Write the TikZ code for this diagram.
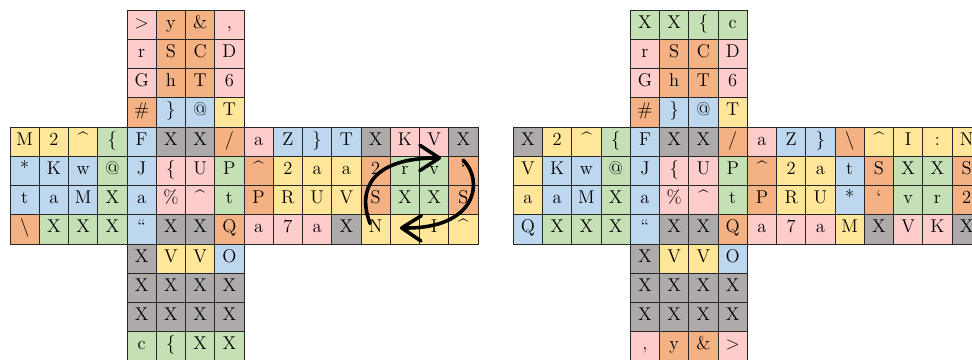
\documentclass[tikz,border=0pt]{standalone}
\usepackage{tikz}
\usetikzlibrary{arrows.meta}

\definecolor{cpink}{HTML}{FFCCCC}
\definecolor{corange}{HTML}{F4B183}
\definecolor{cyellow}{HTML}{FFE699}
\definecolor{cblue}{HTML}{BDD7EE}
\definecolor{cgreen}{HTML}{C5E0B4}
\definecolor{cgray}{HTML}{AEAAAA}

\begin{document}
\begin{tikzpicture}[
				x=7.5mm, y=7.5mm,
				cell/.style={draw=black!85, line width=0.6pt, minimum size=7.5mm, inner sep=0pt,
					text height=0.7em, text depth=0.2em, font=\fontsize{13.5pt}{13.5pt}\selectfont},
				pk/.style={cell, fill=cpink},
				og/.style={cell, fill=corange},
				yl/.style={cell, fill=cyellow},
				bu/.style={cell, fill=cblue},
				gn/.style={cell, fill=cgreen},
				gy/.style={cell, fill=cgray},
				giro/.style={line width=2.6pt, line cap=round, -{Straight Barb[round, length=5mm, width=6.5mm]}}
				]
				
				\useasboundingbox (-0.342,0.342) rectangle (32.89,-11.966);
				
				% Cubo inicial: cara superior
				\node[pk] (L-0-4) at (4.5,-0.5) {>}; \node[og] (L-0-5) at (5.5,-0.5) {y}; \node[og] (L-0-6) at (6.5,-0.5) {\&}; \node[pk] (L-0-7) at (7.5,-0.5) {,};
				\node[pk] (L-1-4) at (4.5,-1.5) {r}; \node[og] (L-1-5) at (5.5,-1.5) {S}; \node[og] (L-1-6) at (6.5,-1.5) {C}; \node[pk] (L-1-7) at (7.5,-1.5) {D};
				\node[pk] (L-2-4) at (4.5,-2.5) {G}; \node[og] (L-2-5) at (5.5,-2.5) {h}; \node[og] (L-2-6) at (6.5,-2.5) {T}; \node[pk] (L-2-7) at (7.5,-2.5) {6};
				\node[og] (L-3-4) at (4.5,-3.5) {\#}; \node[bu] (L-3-5) at (5.5,-3.5) {\}}; \node[bu] (L-3-6) at (6.5,-3.5) {@}; \node[yl] (L-3-7) at (7.5,-3.5) {T};
				
				% Cubo inicial: franja central
				\node[yl] (L-4-0) at (0.5,-4.5) {M}; \node[yl] (L-4-1) at (1.5,-4.5) {2}; \node[yl] (L-4-2) at (2.5,-4.5) {\textasciicircum}; \node[gn] (L-4-3) at (3.5,-4.5) {\{};
				\node[bu] (L-4-4) at (4.5,-4.5) {F}; \node[gy] (L-4-5) at (5.5,-4.5) {X}; \node[gy] (L-4-6) at (6.5,-4.5) {X}; \node[og] (L-4-7) at (7.5,-4.5) {/};
				\node[pk] (L-4-8) at (8.5,-4.5) {a}; \node[bu] (L-4-9) at (9.5,-4.5) {Z}; \node[bu] (L-4-10) at (10.5,-4.5) {\}}; \node[bu] (L-4-11) at (11.5,-4.5) {T};
				\node[gy] (L-4-12) at (12.5,-4.5) {X}; \node[pk] (L-4-13) at (13.5,-4.5) {K}; \node[pk] (L-4-14) at (14.5,-4.5) {V}; \node[gy] (L-4-15) at (15.5,-4.5) {X};
				
				\node[bu] (L-5-0) at (0.5,-5.5) {*}; \node[bu] (L-5-1) at (1.5,-5.5) {K}; \node[bu] (L-5-2) at (2.5,-5.5) {w}; \node[gn] (L-5-3) at (3.5,-5.5) {@};
				\node[bu] (L-5-4) at (4.5,-5.5) {J}; \node[pk] (L-5-5) at (5.5,-5.5) {\{}; \node[pk] (L-5-6) at (6.5,-5.5) {U}; \node[gn] (L-5-7) at (7.5,-5.5) {P};
				\node[og] (L-5-8) at (8.5,-5.5) {\textasciicircum}; \node[yl] (L-5-9) at (9.5,-5.5) {2}; \node[yl] (L-5-10) at (10.5,-5.5) {a}; \node[yl] (L-5-11) at (11.5,-5.5) {a};
				\node[og] (L-5-12) at (12.5,-5.5) {2}; \node[gn] (L-5-13) at (13.5,-5.5) {r}; \node[gn] (L-5-14) at (14.5,-5.5) {v}; \node[og] (L-5-15) at (15.5,-5.5) {\textquoteleft};
				
				\node[bu] (L-6-0) at (0.5,-6.5) {t}; \node[bu] (L-6-1) at (1.5,-6.5) {a}; \node[bu] (L-6-2) at (2.5,-6.5) {M}; \node[gn] (L-6-3) at (3.5,-6.5) {X};
				\node[bu] (L-6-4) at (4.5,-6.5) {a}; \node[pk] (L-6-5) at (5.5,-6.5) {\%}; \node[pk] (L-6-6) at (6.5,-6.5) {\textasciicircum}; \node[gn] (L-6-7) at (7.5,-6.5) {t};
				\node[og] (L-6-8) at (8.5,-6.5) {P}; \node[yl] (L-6-9) at (9.5,-6.5) {R}; \node[yl] (L-6-10) at (10.5,-6.5) {U}; \node[yl] (L-6-11) at (11.5,-6.5) {V};
				\node[og] (L-6-12) at (12.5,-6.5) {S}; \node[gn] (L-6-13) at (13.5,-6.5) {X}; \node[gn] (L-6-14) at (14.5,-6.5) {X}; \node[og] (L-6-15) at (15.5,-6.5) {S};
				
				\node[og] (L-7-0) at (0.5,-7.5) {\textbackslash}; \node[gn] (L-7-1) at (1.5,-7.5) {X}; \node[gn] (L-7-2) at (2.5,-7.5) {X}; \node[gn] (L-7-3) at (3.5,-7.5) {X};
				\node[bu] (L-7-4) at (4.5,-7.5) {\textquotedblleft}; \node[gy] (L-7-5) at (5.5,-7.5) {X}; \node[gy] (L-7-6) at (6.5,-7.5) {X}; \node[og] (L-7-7) at (7.5,-7.5) {Q};
				\node[pk] (L-7-8) at (8.5,-7.5) {a}; \node[pk] (L-7-9) at (9.5,-7.5) {7}; \node[pk] (L-7-10) at (10.5,-7.5) {a}; \node[gy] (L-7-11) at (11.5,-7.5) {X};
				\node[yl] (L-7-12) at (12.5,-7.5) {N}; \node[yl] (L-7-13) at (13.5,-7.5) {:}; \node[yl] (L-7-14) at (14.5,-7.5) {I}; \node[yl] (L-7-15) at (15.5,-7.5) {\textasciicircum};
				
				% Cubo inicial: cara inferior
				\node[gy] (L-8-4) at (4.5,-8.5) {X}; \node[yl] (L-8-5) at (5.5,-8.5) {V}; \node[yl] (L-8-6) at (6.5,-8.5) {V}; \node[bu] (L-8-7) at (7.5,-8.5) {O};
				\node[gy] (L-9-4) at (4.5,-9.5) {X}; \node[gy] (L-9-5) at (5.5,-9.5) {X}; \node[gy] (L-9-6) at (6.5,-9.5) {X}; \node[gy] (L-9-7) at (7.5,-9.5) {X};
				\node[gy] (L-10-4) at (4.5,-10.5) {X}; \node[gy] (L-10-5) at (5.5,-10.5) {X}; \node[gy] (L-10-6) at (6.5,-10.5) {X}; \node[gy] (L-10-7) at (7.5,-10.5) {X};
				\node[gn] (L-11-4) at (4.5,-11.5) {c}; \node[gn] (L-11-5) at (5.5,-11.5) {\{}; \node[gn] (L-11-6) at (6.5,-11.5) {X}; \node[gn] (L-11-7) at (7.5,-11.5) {X};
				
				% Giro de la cara derecha
				\coordinate (g1a) at (12.31,-7.3);
				\coordinate (g1b) at (14.74,-5.06);
				\coordinate (g2a) at (15.49,-5.13);
				\coordinate (g2b) at (13.33,-7.45);
				\draw[giro] (g1a) .. controls (11.85,-6.1) and (12.4,-5.05) .. (g1b);
				\draw[giro] (g2a) .. controls (16.2,-5.8) and (16.0,-7.5) .. (g2b);
				
				% Cubo girado: cara superior
				\node[gn] (R-0-4) at (21.71,-0.5) {X}; \node[gn] (R-0-5) at (22.71,-0.5) {X}; \node[gn] (R-0-6) at (23.71,-0.5) {\{}; \node[gn] (R-0-7) at (24.71,-0.5) {c};
				\node[pk] (R-1-4) at (21.71,-1.5) {r}; \node[og] (R-1-5) at (22.71,-1.5) {S}; \node[og] (R-1-6) at (23.71,-1.5) {C}; \node[pk] (R-1-7) at (24.71,-1.5) {D};
				\node[pk] (R-2-4) at (21.71,-2.5) {G}; \node[og] (R-2-5) at (22.71,-2.5) {h}; \node[og] (R-2-6) at (23.71,-2.5) {T}; \node[pk] (R-2-7) at (24.71,-2.5) {6};
				\node[og] (R-3-4) at (21.71,-3.5) {\#}; \node[bu] (R-3-5) at (22.71,-3.5) {\}}; \node[bu] (R-3-6) at (23.71,-3.5) {@}; \node[yl] (R-3-7) at (24.71,-3.5) {T};
				
				% Cubo girado: franja central
				\node[gy] (R-4-0) at (17.71,-4.5) {X}; \node[yl] (R-4-1) at (18.71,-4.5) {2}; \node[yl] (R-4-2) at (19.71,-4.5) {\textasciicircum}; \node[gn] (R-4-3) at (20.71,-4.5) {\{};
				\node[bu] (R-4-4) at (21.71,-4.5) {F}; \node[gy] (R-4-5) at (22.71,-4.5) {X}; \node[gy] (R-4-6) at (23.71,-4.5) {X}; \node[og] (R-4-7) at (24.71,-4.5) {/};
				\node[pk] (R-4-8) at (25.71,-4.5) {a}; \node[bu] (R-4-9) at (26.71,-4.5) {Z}; \node[bu] (R-4-10) at (27.71,-4.5) {\}}; \node[og] (R-4-11) at (28.71,-4.5) {\textbackslash};
				\node[yl] (R-4-12) at (29.71,-4.5) {\textasciicircum}; \node[yl] (R-4-13) at (30.71,-4.5) {I}; \node[yl] (R-4-14) at (31.71,-4.5) {:}; \node[yl] (R-4-15) at (32.71,-4.5) {N};
				
				\node[yl] (R-5-0) at (17.71,-5.5) {V}; \node[bu] (R-5-1) at (18.71,-5.5) {K}; \node[bu] (R-5-2) at (19.71,-5.5) {w}; \node[gn] (R-5-3) at (20.71,-5.5) {@};
				\node[bu] (R-5-4) at (21.71,-5.5) {J}; \node[pk] (R-5-5) at (22.71,-5.5) {\{}; \node[pk] (R-5-6) at (23.71,-5.5) {U}; \node[gn] (R-5-7) at (24.71,-5.5) {P};
				\node[og] (R-5-8) at (25.71,-5.5) {\textasciicircum}; \node[yl] (R-5-9) at (26.71,-5.5) {2}; \node[yl] (R-5-10) at (27.71,-5.5) {a}; \node[bu] (R-5-11) at (28.71,-5.5) {t};
				\node[og] (R-5-12) at (29.71,-5.5) {S}; \node[gn] (R-5-13) at (30.71,-5.5) {X}; \node[gn] (R-5-14) at (31.71,-5.5) {X}; \node[og] (R-5-15) at (32.71,-5.5) {S};
				
				\node[yl] (R-6-0) at (17.71,-6.5) {a}; \node[bu] (R-6-1) at (18.71,-6.5) {a}; \node[bu] (R-6-2) at (19.71,-6.5) {M}; \node[gn] (R-6-3) at (20.71,-6.5) {X};
				\node[bu] (R-6-4) at (21.71,-6.5) {a}; \node[pk] (R-6-5) at (22.71,-6.5) {\%}; \node[pk] (R-6-6) at (23.71,-6.5) {\textasciicircum}; \node[gn] (R-6-7) at (24.71,-6.5) {t};
				\node[og] (R-6-8) at (25.71,-6.5) {P}; \node[yl] (R-6-9) at (26.71,-6.5) {R}; \node[yl] (R-6-10) at (27.71,-6.5) {U}; \node[bu] (R-6-11) at (28.71,-6.5) {*};
				\node[og] (R-6-12) at (29.71,-6.5) {\textquoteleft}; \node[gn] (R-6-13) at (30.71,-6.5) {v}; \node[gn] (R-6-14) at (31.71,-6.5) {r}; \node[og] (R-6-15) at (32.71,-6.5) {2};
				
				\node[bu] (R-7-0) at (17.71,-7.5) {Q}; \node[gn] (R-7-1) at (18.71,-7.5) {X}; \node[gn] (R-7-2) at (19.71,-7.5) {X}; \node[gn] (R-7-3) at (20.71,-7.5) {X};
				\node[bu] (R-7-4) at (21.71,-7.5) {\textquotedblleft}; \node[gy] (R-7-5) at (22.71,-7.5) {X}; \node[gy] (R-7-6) at (23.71,-7.5) {X}; \node[og] (R-7-7) at (24.71,-7.5) {Q};
				\node[pk] (R-7-8) at (25.71,-7.5) {a}; \node[pk] (R-7-9) at (26.71,-7.5) {7}; \node[pk] (R-7-10) at (27.71,-7.5) {a}; \node[yl] (R-7-11) at (28.71,-7.5) {M};
				\node[gy] (R-7-12) at (29.71,-7.5) {X}; \node[pk] (R-7-13) at (30.71,-7.5) {V}; \node[pk] (R-7-14) at (31.71,-7.5) {K}; \node[gy] (R-7-15) at (32.71,-7.5) {X};
				
				% Cubo girado: cara inferior
				\node[gy] (R-8-4) at (21.71,-8.5) {X}; \node[yl] (R-8-5) at (22.71,-8.5) {V}; \node[yl] (R-8-6) at (23.71,-8.5) {V}; \node[bu] (R-8-7) at (24.71,-8.5) {O};
				\node[gy] (R-9-4) at (21.71,-9.5) {X}; \node[gy] (R-9-5) at (22.71,-9.5) {X}; \node[gy] (R-9-6) at (23.71,-9.5) {X}; \node[gy] (R-9-7) at (24.71,-9.5) {X};
				\node[gy] (R-10-4) at (21.71,-10.5) {X}; \node[gy] (R-10-5) at (22.71,-10.5) {X}; \node[gy] (R-10-6) at (23.71,-10.5) {X}; \node[gy] (R-10-7) at (24.71,-10.5) {X};
				\node[pk] (R-11-4) at (21.71,-11.5) {,}; \node[og] (R-11-5) at (22.71,-11.5) {y}; \node[og] (R-11-6) at (23.71,-11.5) {\&}; \node[pk] (R-11-7) at (24.71,-11.5) {>};
				
			\end{tikzpicture}
\end{document}
